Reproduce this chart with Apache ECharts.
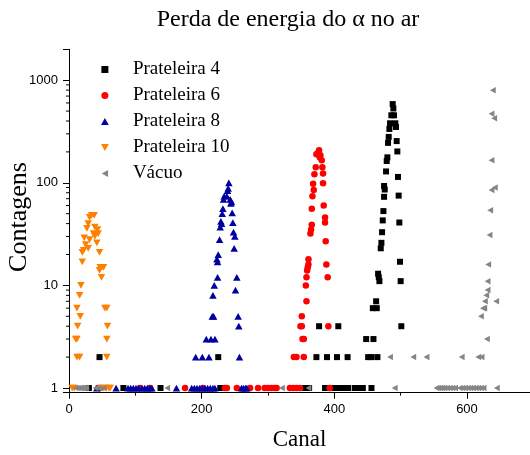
<!DOCTYPE html>
<html>
<head>
<meta charset="utf-8">
<script src="https://cdn.jsdelivr.net/npm/echarts@6/dist/echarts.min.js"></script>
<style>
html,body{margin:0;padding:0;background:#fff;}
#chart{width:530px;height:455px;}
</style>
</head>
<body>
<div id="chart"></div>
<script>
// ---- Data (channel, counts) ----
const titleText = 'Perda de energia do \u03b1 no ar';
const xName = 'Canal';
const yName = 'Contagens';
const seriesNames = ['Prateleira 4', 'Prateleira 6', 'Prateleira 8', 'Prateleira 10', 'V\u00e1cuo'];
const xTicks = [0, 200, 400, 600];
const yTicks = [1, 10, 100, 1000];

const prat4 = [
  [30,1],[82,1],[138,1],[228,1],[232,1],[356,1],[362,1],[386,1],[401,1],[405,1],[409,1],[413,1],[417,1],[421,1],[431,1],[435,1],[439,1],[443,1],[456,1],
  [46,2],[225,2],[373,2],[389,2],[404,2],[420,2],[451,2],[456,2],[465,2],
  [448,3],[459,3],[377,4],[406,4],
  [458,6],[464,6],[463,7],[466,13],[467,12],[468,11],[470,23],[471,26],[472,33],[473,43],[474,53],
  [475,73],[476,86],[475,93],[478,129],[479,163],[480,177],[481,245],[482,280],[483,335],[484,380],
  [486,455],[488,585],[489,530],[490,455],[492,380],[493,350],[494,255],[495,202],[496,114],[497,75],
  [498,41],[499,17],[500,11],[501,4]
];
const prat6 = [
  [44,1],[47,1],[107,1],[122,1],[175,1],[202,1],[235,1],[238,1],[253,1],[273,1],[285,1],[295,1],[300,1],[305,1],[310,1],[313,1],[333,1],[338,1],[343,1],[348,1],[393,1],
  [339,2],[343,2],[354,2],[352,3],[354,3],[349,4],[351,4],[351,5],[358,7],[357,10],[358,12],
  [359,14],[360,15],[361,16],[361,18],[364,32],[365,35],[366,39],[366,56],[367,74],[369,85],[368,98],
  [370,121],[372,142],[373,190],[375,194],[377,208],[378,177],[379,186],[381,166],[382,142],[383,123],
  [383,99],[384,60],[386,46],[386,41],[387,27],[388,16],[390,12],[391,4]
];
const prat8 = [
  [42,1],[71,1],[89,1],[93,1],[97,1],[101,1],[105,1],[110,1],[114,1],[118,1],[122,1],[125,1],[162,1],
  [185,1],[189,1],[193,1],[197,1],[201,1],[205,1],[209,1],[213,1],[217,1],[220,1],[260,1],[263,1],[266,1],[268,1],
  [191,2],[201,2],[211,2],[257,2],[207,3],[214,3],[220,3],[256,4],[216,5],[218,5],[255,5],
  [217,8],[251,9],[219,10],[224,12],[253,12],[224,17],[223,18],[225,20],[249,23],[227,28],[250,30],
  [248,33],[228,37],[229,42],[230,40],[247,41],[231,50],[246,51],[232,56],[244,63],[245,65],
  [233,69],[243,69],[234,74],[238,74],[239,84],[240,88],[241,100]
];
const prat10 = [
  [5,1],[8,1],[48,1],[52,1],[56,1],[60,1],[62,1],
  [12,2],[16,2],[57,2],[10,3],[12,3],[57,3],[13,4],[58,4],[17,5],[12,6],[54,6],[57,6],[16,8],[18,10],
  [49,12],[46,14],[47,15],[49,15],[52,15],[20,17],[46,21],[20,21],[22,22],[29,23],[25,25],[42,26],
  [31,28],[23,29],[39,30],[37,32],[44,32],[43,35],[27,36],[39,37],[29,40],[31,46],[34,48],[38,48]
];
const vacuo = [
  [10,1],[13,1],[16,1],[18,1],[20,1],[22,1],[24,1],[26,1],[40,1],[45,1],[52,1],[148,1],[321,1],[361,1],[491,1],
  [554,1],[557,1],[560,1],[563,1],[566,1],[570,1],[574,1],[578,1],[582,1],
  [589,1],[593,1],[597,1],[601,1],[605,1],[609,1],[613,1],[617,1],[621,1],[625,1],[645,1],
  [484,2],[519,2],[539,2],[592,2],[617,2],[622,2],
  [630,3],[621,5],[624,6],[626,6],[627,7],[644,7],[629,8],[631,9],[631,11],[632,16],[634,31],
  [635,54],[637,85],[642,90],[637,166],[641,425],[637,470],[639,800]
];
const yMinorValues = [2,3,4,5,6,7,8,9,20,30,40,50,60,70,80,90,200,300,400,500,600,700,800,900];

// ---- Chart ----
const chart = echarts.init(document.getElementById('chart'), null, {renderer: 'canvas'});
const serif = '"Liberation Serif", "DejaVu Serif", serif';
const sans = '"Liberation Sans", Arial, sans-serif';
const symRect = 'path://M0,0L10,0L10,10L0,10Z';
const symTri = 'path://M5,0L10,9L0,9Z';
const symInvTri = 'path://M0,0L10,0L5,9Z';
const symLeftTri = 'path://M9,0L9,10L0,5Z';

const defs = [
  {name: seriesNames[0], data: prat4, symbol: symRect, size: 6, color: '#000000'},
  {name: seriesNames[1], data: prat6, symbol: 'circle', size: 6.5, color: '#ff0000'},
  {name: seriesNames[2], data: prat8, symbol: symTri, size: 7.5, color: '#0000a0'},
  {name: seriesNames[3], data: prat10, symbol: symInvTri, size: 7.5, color: '#ff8000'},
  {name: seriesNames[4], data: vacuo, symbol: symLeftTri, size: 6.5, color: '#858585'}
];

const isPow10 = v => Math.abs(Math.log10(v) - Math.round(Math.log10(v))) < 1e-6;

const series = defs.map(d => ({
  type: 'scatter', name: d.name, data: d.data, symbol: d.symbol, symbolSize: d.size,
  symbolKeepAspect: true,
  itemStyle: {color: d.color, opacity: 1}, emphasis: {disabled: true}, animation: false
}));

series.push({
  type: 'custom', name: 'minor', silent: true, animation: false, clip: false,
  data: yMinorValues.map(v => [0, v]),
  renderItem: (params, api) => {
    const p = api.coord([api.value(0), api.value(1)]);
    return {type: 'line', shape: {x1: p[0] - 3, y1: p[1], x2: p[0], y2: p[1]},
      style: {stroke: '#000', lineWidth: 1}};
  }
});

chart.setOption({
  backgroundColor: '#ffffff',
  animation: false,
  title: {
    text: titleText, left: 283, top: 3, textAlign: 'center',
    textStyle: {fontFamily: serif, fontSize: 24, fontWeight: 'normal', color: '#000'}
  },
  legend: {
    orient: 'vertical', left: 96, top: 55, itemGap: 7, itemWidth: 46, itemHeight: 7,
    data: defs.map(d => ({name: d.name, icon: d.symbol})),
    textStyle: {fontFamily: serif, fontSize: 19, color: '#000'},
    selectedMode: false
  },
  grid: {left: 69, right: 0, top: 49.3, bottom: 62.3, containLabel: false, outerBoundsMode: 'none'},
  xAxis: {
    type: 'value', min: 0, max: 695, interval: 200,
    name: xName, nameLocation: 'middle', nameGap: 36, nameMoveOverlap: false,
    nameTextStyle: {fontFamily: serif, fontSize: 23, color: '#000'},
    axisLine: {show: true, lineStyle: {color: '#000', width: 1}},
    axisTick: {show: true, inside: false, length: 6, lineStyle: {color: '#000'}},
    minorTick: {show: true, splitNumber: 2, length: 3, lineStyle: {color: '#000'}},
    axisLabel: {fontFamily: sans, fontSize: 13, color: '#000', margin: 10,
      formatter: v => (xTicks.indexOf(v) >= 0 ? String(v) : '')},
    splitLine: {show: false}
  },
  yAxis: {
    type: 'log', logBase: 10, min: 0.9, max: 2000,
    name: yName, nameLocation: 'middle', nameGap: 37, nameMoveOverlap: false,
    nameTextStyle: {fontFamily: serif, fontSize: 26, color: '#000', padding: [0, 0, 0, 8]},
    axisLine: {show: true, lineStyle: {color: '#000', width: 1}},
    axisTick: {show: true, inside: false, length: 6, lineStyle: {color: '#000'}},
    minorTick: {show: false},
    axisLabel: {fontFamily: sans, fontSize: 13, color: '#000', margin: 11,
      formatter: v => (isPow10(v) && yTicks.indexOf(Math.round(v)) >= 0 ? String(Math.round(v)) : '')},
    splitLine: {show: false}
  },
  series: series
});
</script>
</body>
</html>
